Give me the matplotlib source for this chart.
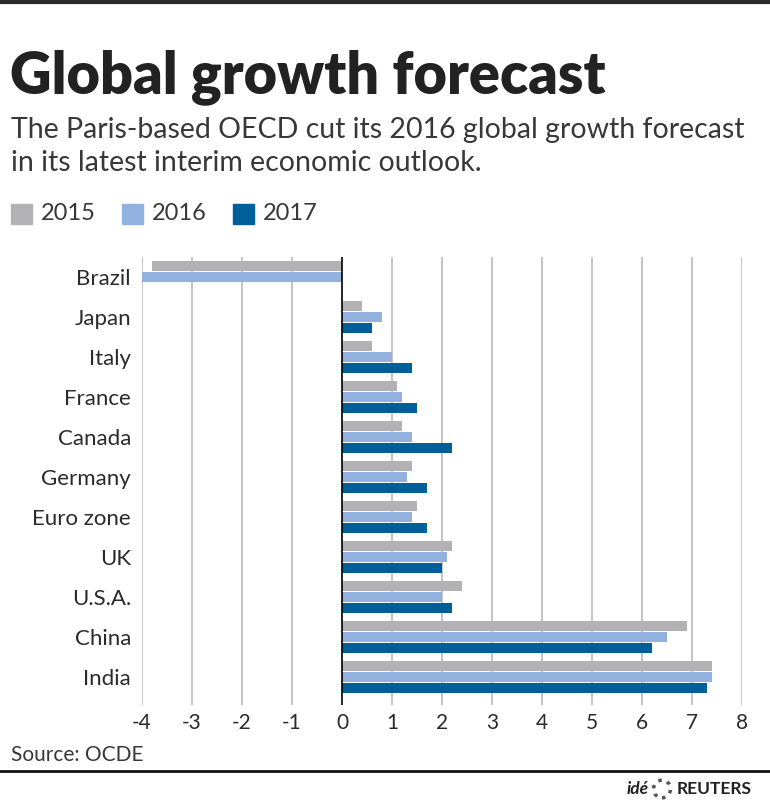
import matplotlib
matplotlib.use("Agg")
import matplotlib.pyplot as plt
from matplotlib.patches import Rectangle, Circle
from matplotlib.lines import Line2D
import numpy as np

plt.rcParams['font.family'] = ['Lato', 'DejaVu Sans']

countries = ["Brazil", "Japan", "Italy", "France", "Canada", "Germany",
             "Euro zone", "UK", "U.S.A.", "China", "India"]
growth_2015 = [-3.8, 0.4, 0.6, 1.1, 1.2, 1.4, 1.5, 2.2, 2.4, 6.9, 7.4]
growth_2016 = [-4.0, 0.8, 1.0, 1.2, 1.4, 1.3, 1.4, 2.1, 2.0, 6.5, 7.4]
growth_2017 = [0.0, 0.6, 1.4, 1.5, 2.2, 1.7, 1.7, 2.0, 2.2, 6.2, 7.3]
years = ["2015", "2016", "2017"]
colors = ["#b2b2b4", "#93b1df", "#005e98"]
xticks = [-4, -3, -2, -1, 0, 1, 2, 3, 4, 5, 6, 7, 8]

W, H = 770, 802
fig = plt.figure(figsize=(W / 100, H / 100), dpi=100)
ax = fig.add_axes([142 / W, 1 - 705 / H, 600 / W, 448 / H])

y = np.arange(len(countries))
h = 0.25
for i, vals in enumerate([growth_2015, growth_2016, growth_2017]):
    ax.barh(y + (i - 1) * (h + 0.02), vals, height=h, color=colors[i], zorder=3)

ax.set_xlim(-4, 8)
ax.set_ylim(10.7, -0.5)
ax.set_xticks(xticks)
ax.set_xticklabels([str(t) for t in xticks], fontsize=15, color="#2a2a2a")
ax.set_yticks(y)
ax.set_yticklabels(countries, fontsize=16, color="#2a2a2a")
ax.tick_params(length=0, pad=6)
ax.tick_params(axis='y', pad=8)
for t in xticks:
    ax.axvline(t, color="#000000" if t == 0 else "#c4c4c4",
               lw=1.2 if t == 0 else 1.4, zorder=4 if t == 0 else 1)
for s in ax.spines.values():
    s.set_visible(False)

# header
fig.add_artist(Line2D([0, 1], [1 - 1.5 / H, 1 - 1.5 / H], color="#2a2a2a", lw=3))
fig.text(10 / W, 1 - 77 / H, "Global growth forecast", fontsize=41.5,
         fontweight="heavy", color="#222222", va="center")
fig.text(11 / W, 1 - 130 / H, "The Paris-based OECD cut its 2016 global growth forecast",
         fontsize=20.5, color="#383838", va="center")
fig.text(11 / W, 1 - 163 / H, "in its latest interim economic outlook.",
         fontsize=20.5, color="#383838", va="center")

# legend
leg_x = [11, 122, 233]
for lx, yr, c in zip(leg_x, years, colors):
    fig.add_artist(Rectangle((lx / W, 1 - 224 / H), 21 / W, 20 / H,
                             transform=fig.transFigure, color=c))
    fig.text((lx + 30) / W, 1 - 214 / H, yr, fontsize=17,
             color="#383838", va="center")

# footer
fig.text(11 / W, 1 - 755 / H, "Source: OCDE", fontsize=15,
         color="#383838", va="center")
fig.add_artist(Line2D([0, 1], [1 - 771 / H, 1 - 771 / H], color="#111111", lw=2))
fig.text(649 / W, 1 - 789 / H, "idé", fontsize=12.5, fontweight="bold",
         style="italic", color="#222222", va="center", ha="right")
fig.add_artist(Circle((662 / W, 1 - 789 / H), 8.5 / W, transform=fig.transFigure,
                      fill=False, ec="#555555", lw=2.5, ls=":"))
fig.text(677 / W, 1 - 789 / H, "REUTERS", fontsize=12.5, fontweight="bold",
         color="#222222", va="center")

fig.savefig("out.png", dpi=100)
